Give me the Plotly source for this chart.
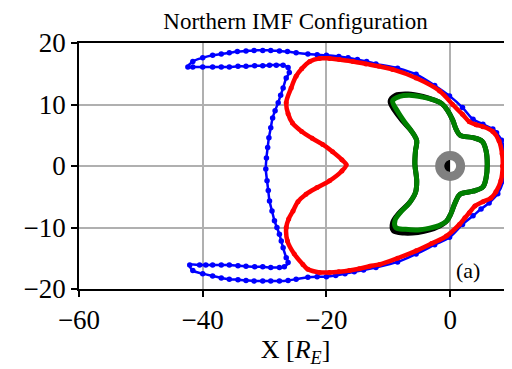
import plotly.graph_objects as go

# ---------------- data ----------------
blue_x = [8.9, 8.8, 8.3, 7.5, 6.9, 5.3, 3.7, 2.0, -0.1, -2.5, -5.5, -8.5, -12.0,
          -13.5, -15.0, -16.5, -18.0, -20.0, -21.5, -23.0, -24.9, -26.3, -27.6, -29.0,
          -30.3, -31.7, -33.0, -34.4, -35.7, -37.0, -38.4, -40.0, -41.6, -42.4,
          -41.6, -40.0, -38.4, -37.0, -35.7, -34.3, -33.0, -31.6, -30.3, -29.2, -28.1,
          -27.0, -26.2, -26.0, -26.5, -27.0, -27.4, -27.8, -28.3, -28.7, -29.0, -29.3,
          -29.5, -29.7, -29.8, -29.6, -29.4, -29.2, -28.8, -28.4, -28.0, -27.6, -27.3,
          -27.0, -26.5, -26.2, -26.8, -27.6, -29.0, -30.3, -31.6, -33.0, -34.3, -35.7,
          -37.0, -38.4, -39.5, -40.5, -42.1,
          -41.6, -40.0, -38.4, -37.0, -35.7, -34.3, -33.0, -31.7, -30.3, -29.0, -27.6,
          -26.2, -24.9, -23.0, -21.5, -20.0, -18.5, -17.0, -15.5, -14.0, -12.0, -8.5,
          -5.5, -2.5, -0.1, 2.0, 3.7, 5.0, 6.3, 7.7, 8.6, 8.9]
blue_y = [0.5, 2.5, 4.2, 5.4, 6.0, 6.8, 7.6, 9.5, 11.4, 13.1, 14.9, 15.9, 16.6,
          17.0, 17.3, 17.6, 17.8, 18.0, 18.1, 18.2, 18.4, 18.6, 18.7, 18.8,
          18.8, 18.8, 18.7, 18.6, 18.4, 18.2, 18.0, 17.6, 17.0, 16.1,
          16.1, 16.1, 16.1, 16.1, 16.1, 16.2, 16.2, 16.3, 16.3, 16.4, 16.4,
          16.4, 16.0, 15.2, 14.3, 12.7, 11.5, 10.3, 9.0, 7.8, 6.2, 4.6,
          3.0, 1.3, -0.5, -2.4, -4.0, -5.7, -7.3, -8.9, -10.0, -11.1, -12.2,
          -13.3, -14.9, -15.7, -16.4, -16.5, -16.5, -16.4, -16.4, -16.3, -16.2, -16.1,
          -16.1, -16.1, -16.1, -16.1, -16.1,
          -17.0, -17.5, -17.9, -18.2, -18.4, -18.5, -18.6, -18.7, -18.7, -18.7, -18.7,
          -18.6, -18.4, -18.1, -18.0, -18.0, -17.8, -17.5, -17.2, -16.9, -16.5, -15.6,
          -14.3, -12.8, -11.6, -9.5, -8.1, -7.0, -6.0, -4.5, -2.4, 0.5]

red_x = [8.5, 8.4, 7.9, 6.9, 5.3, 4.2, 3.1, 2.0, 0.4, -1.7, -5.5, -9.3, -11.5, -13.6,
         -15.7, -17.9, -19.5, -21.1, -22.7, -24.0, -24.9, -25.7, -26.5, -26.2, -25.5,
         -24.0, -22.3, -20.6, -19.0, -17.5, -16.8, -17.5, -19.5, -21.5, -23.3, -24.6,
         -25.4, -26.1, -26.5, -26.3, -25.2, -23.8, -23.0, -21.1, -19.5, -18.0, -16.3,
         -14.7, -13.0, -11.4, -8.5, -5.5, -3.0, -0.6, 1.5, 2.4, 3.1, 4.0, 5.3, 6.6,
         7.4, 8.2, 8.5]
red_y = [0.0, 2.0, 4.1, 5.6, 6.4, 6.7, 7.2, 8.4, 10.0, 12.2, 14.3, 15.7, 16.2, 16.6,
         17.0, 17.3, 17.5, 17.5, 17.0, 15.8, 14.6, 12.7, 10.3, 8.5, 7.0,
         5.6, 4.5, 3.5, 2.3, 1.0, 0.2, -0.8, -2.4, -3.5, -4.6, -5.8,
         -7.3, -8.6, -10.0, -12.2, -14.3, -16.0, -16.8, -17.3, -17.3, -17.2, -17.0,
         -16.7, -16.3, -16.0, -15.0, -13.8, -12.6, -11.4, -9.5, -8.4, -7.6, -6.5, -5.8, -5.2,
         -4.2, -2.4, 0.0]

black_x = [-9.7, -8.8, -6.8, -4.4, -2.8, -1.3, -0.4, 0.4, 1.0, 1.6, 3.7, 5.2, 5.8, 6.0,
           5.8, 5.3, 3.7, 1.6, 0.8, 0.1, -0.6, -1.8, -3.3, -5.2, -7.4, -9.2, -9.3,
           -8.3, -6.6, -5.6, -5.4, -5.7, -5.6, -5.4, -6.2, -7.6, -8.9, -9.7]
black_y = [10.5, 11.5, 11.7, 11.3, 10.8, 10.1, 9.0, 7.5, 5.9, 5.0, 4.6, 4.0, 2.5, 0.3,
           -2.0, -3.4, -4.1, -4.6, -6.0, -7.8, -9.0, -9.8, -10.4, -10.8, -10.9, -10.5, -9.2,
           -7.7, -6.0, -4.3, -2.5, 0.3, 2.5, 4.1, 5.6, 7.2, 8.9, 10.5]

green_x = [-9.3, -8.2, -6.6, -4.4, -2.8, -1.3, -0.4, 0.4, 1.0, 1.6, 3.7, 5.2, 5.8, 6.0,
           5.8, 5.3, 3.7, 1.6, 0.8, 0.1, -0.6, -1.8, -3.3, -5.2, -7.2, -8.8, -8.9,
           -8.0, -6.6, -5.6, -5.4, -5.7, -5.6, -5.4, -6.2, -7.4, -8.5, -9.3]
green_y = [10.6, 11.3, 11.5, 11.2, 10.8, 10.1, 9.0, 7.5, 5.9, 5.0, 4.6, 4.0, 2.5, 0.3,
           -2.0, -3.4, -4.1, -4.6, -6.0, -7.8, -9.0, -9.7, -10.1, -10.4, -10.3, -10.0, -8.8,
           -7.5, -6.0, -4.3, -2.5, 0.3, 2.5, 4.1, 5.6, 7.2, 8.9, 10.6]

earth_x = [0]
earth_y = [0]

x_ticks = [-60, -40, -20, 0]
x_tick_text = ["\u221260", "\u221240", "\u221220", "0"]
y_ticks = [-20, -10, 0, 10, 20]
y_tick_text = ["\u221220", "\u221210", "0", "10", "20"]

FONT = "Liberation Serif"

# The page body has an 8px default margin, so the figure is 8px smaller than the window.
W, H = 504, 361

fig = go.Figure()
fig.add_trace(go.Scatter(x=blue_x, y=blue_y, mode="lines+markers",
                         line=dict(color="#0000ff", width=2.5, shape="spline"),
                         marker=dict(color="#0000ff", size=5.5), hoverinfo="skip"))
fig.add_trace(go.Scatter(x=red_x, y=red_y, mode="lines+markers",
                         line=dict(color="#ff0000", width=4.5, shape="spline"),
                         marker=dict(color="#ff0000", size=5), hoverinfo="skip"))
fig.add_trace(go.Scatter(x=black_x, y=black_y, mode="lines",
                         line=dict(color="#000000", width=5, shape="spline"), hoverinfo="skip"))
fig.add_trace(go.Scatter(x=green_x, y=green_y, mode="lines",
                         line=dict(color="#008000", width=5, shape="spline"), hoverinfo="skip"))
# Earth: grey disk, white inner disk, dark night side
fig.add_trace(go.Scatter(x=earth_x, y=earth_y, mode="markers",
                         marker=dict(color="#808080", size=30, line=dict(width=0)), hoverinfo="skip"))
fig.add_trace(go.Scatter(x=earth_x, y=earth_y, mode="markers",
                         marker=dict(color="white", size=12, line=dict(width=0)), hoverinfo="skip"))

r = 0.97
k = 0.5523 * r
fig.add_shape(type="path", xref="x", yref="y",
              path=f"M 0,{r} C {-k},{r} {-r},{k} {-r},0 C {-r},{-k} {-k},{-r} 0,{-r} Z",
              fillcolor="black", line=dict(width=0))

fig.update_layout(
    width=W, height=H,
    margin=dict(l=71, r=0, t=35, b=79.5, autoexpand=False),
    paper_bgcolor="white", plot_bgcolor="white",
    showlegend=False,
    font=dict(family=FONT, color="black"),
    title=dict(text="Northern IMF Configuration", x=287.5 / W, xanchor="center",
               y=1 - 12.5 / H, yanchor="middle", yref="container",
               font=dict(family=FONT, size=23, color="black")),
)
axis_common = dict(showgrid=True, gridcolor="#b0b0b0", gridwidth=1.5, zeroline=False,
                   showline=True, linecolor="black", linewidth=1.5, mirror=True,
                   ticks="outside", ticklen=6, tickwidth=1.5, tickcolor="black",
                   automargin=False,
                   tickfont=dict(family=FONT, size=27, color="black"))
fig.update_xaxes(range=[-60, 10], tickmode="array", tickvals=x_ticks, ticktext=x_tick_text,
                 title=dict(text="X [<i>R</i><sub><i>E</i></sub>]",
                            font=dict(family=FONT, size=26), standoff=0),
                 **axis_common)
fig.update_yaxes(range=[-20, 20], tickmode="array", tickvals=y_ticks, ticktext=y_tick_text,
                 **axis_common)

fig.add_annotation(text="(a)", x=0.931, y=0.075, xref="paper", yref="paper",
                   xanchor="right", yanchor="middle", showarrow=False,
                   font=dict(family=FONT, size=22, color="black"))

fig.write_html("out.html")
